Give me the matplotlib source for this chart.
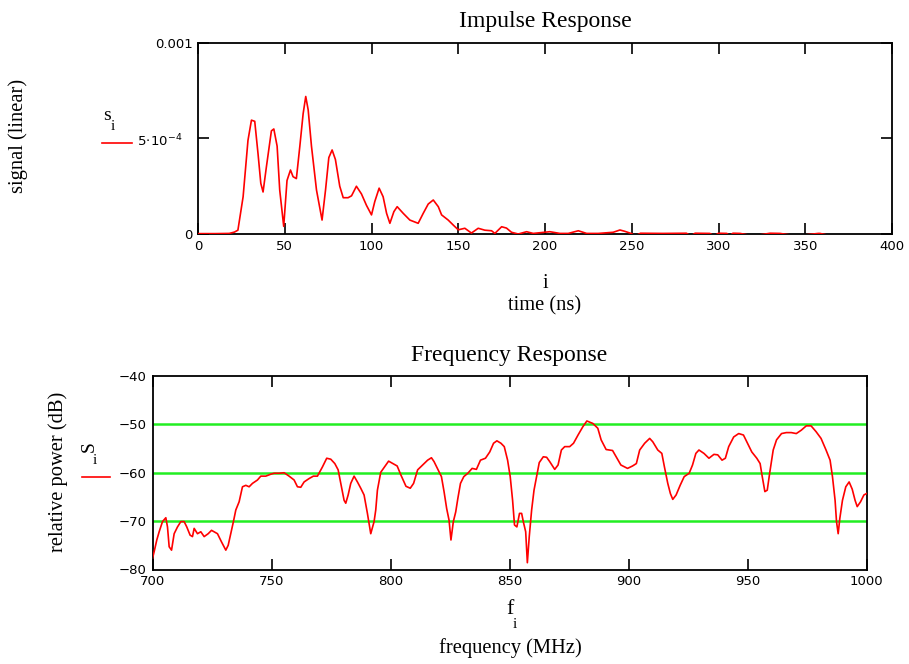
import numpy as np
import matplotlib
matplotlib.use("Agg")
import matplotlib.pyplot as plt

# ---------------- data ----------------
# Impulse response: time (ns) and signal (units of 1e-4)
t_ns = [0, 10, 18, 21, 23, 26, 28.8, 30.8, 32.7, 34.6, 36.2, 37.5, 39.4, 42.3, 43.7, 45.6, 47.1,
        49.4, 51.3, 53.3, 54.8, 56.7, 58.7, 60.6, 62.1, 63.5, 65.4, 68.3, 71.5, 73.5, 75.4,
        77.3, 79.2, 81.7, 83.7, 86.5, 88.5, 91.3, 94.2, 97.1, 100, 101.9, 104.4, 106.7, 108.7,
        110.6, 112.9, 114.8, 118.3, 122.1, 126.9, 129.8, 132.7, 135.6, 138.5, 140.4, 144.2,
        147.1, 150, 153.8, 157.6, 161.5, 165.3, 169.2, 171.1, 175, 177.8, 180.7, 184.6, 189.4,
        193.2, 202.8, 208.6, 213.4, 219.2, 224, 230.7, 239.3, 243.2, 246, 249.9,
        252, 255, 268, 281.5, 284, 286.5, 295, 297.5, 300, 304.8, 306.5, 308.3, 312.5, 320,
        329.7, 335.5, 345, 357.5, 358.5, 365, 400]
s_e4 = [0.02, 0.02, 0.03, 0.1, 0.2, 1.95, 4.9, 5.96, 5.9, 4.2, 2.65, 2.2, 3.5, 5.4, 5.5, 4.6, 2.3,
        0.4, 2.8, 3.35, 3.0, 2.9, 4.6, 6.3, 7.2, 6.5, 4.6, 2.3, 0.73, 2.3, 4.0,
        4.4, 3.9, 2.5, 1.9, 1.9, 2.0, 2.5, 2.1, 1.5, 1.0, 1.7, 2.4, 1.95, 1.08,
        0.56, 1.17, 1.43, 1.08, 0.73, 0.56, 1.08, 1.57, 1.78, 1.43, 1.0, 0.73,
        0.47, 0.22, 0.3, 0.05, 0.3, 0.2, 0.17, 0.03, 0.38, 0.31, 0.09, 0.0, 0.12,
        0.03, 0.12, 0.03, 0.03, 0.17, 0.03, 0.03, 0.09, 0.21, 0.14, 0.02,
        -0.1, 0.04, 0.03, 0.04, -0.1, 0.04, 0.03, -0.1, 0.04, 0.03, -0.1, 0.04, 0.03, -0.1,
        0.04, 0.03, -0.1, 0.03, 0.03, -0.1, -0.1]

# Frequency response: frequency (MHz) and relative power (dB)
f_mhz = [700, 700.7, 701.8, 702.8, 704.2, 705.6, 706.3, 707, 708, 709.1, 710.5, 711.9, 713.3,
         714.4, 715.8, 716.8, 717.5, 718.9, 720.3, 721.7, 723.4, 724.8, 725.9, 727.3, 729,
         730.8, 731.8, 732.9, 734, 735, 736.4, 737.8, 739.2, 740.6, 742, 744.1, 745.5, 747.6,
         749.7, 751.1, 753.2, 755.3, 757.4, 759.5, 760.9, 762.3, 763.7, 765.8, 767.6, 769.3,
         771.4, 773.2, 774.9, 776.6, 778, 779.1, 780.5, 781.2, 782.2, 783.3, 784.7, 786.1,
         787.5, 788.9, 790.3, 791.7, 793.1, 793.8, 794.5, 795.9, 797.5, 799.2, 801, 802.8,
         804.4, 806.5, 808.3, 809.7, 811.4, 813.5, 815.6, 817.2, 818.3, 820, 821.4, 822.5,
         823.6, 824.6, 825.4, 826.4, 827.4, 828.3, 829.4, 830.8, 832.5, 834.3, 836.1, 837.8,
         839.9, 841.7, 843.3, 844.7, 846.4, 847.8, 849.2, 850.3, 851.3, 852.1, 853.1, 854.2,
         855.1, 855.8, 856.8, 857.5, 858.3, 859.3, 860.3, 861.4, 862.5, 864.2, 865.6, 866.9,
         869, 870.4, 871.8, 873.2, 875.3, 876.9, 878.8, 880.8, 882.5, 885, 887.1, 888.5,
         890.6, 893.3, 895.4, 896.8, 899.6, 901.7, 903.3, 904.7, 906.8, 908.9, 910.2, 912.3,
         914, 915.1, 916.5, 917.6, 918.6, 920, 921.7, 923.4, 925.5, 926.9, 928.3, 929.6,
         931.7, 933.8, 935.9, 937.5, 939.3, 940.7, 942.1, 944.2, 946.3, 948.3, 950, 951.8,
         953.9, 955.3, 956.2, 957.3, 958.3, 959.4, 960.8, 962.2, 964.3, 966.3, 968.4, 970.5,
         972.6, 974.7, 976.7, 978.8, 980.9, 983, 984.7, 985.7, 986.8, 987.4, 988.1, 988.8,
         989.9, 991.3, 992.7, 994, 995.2, 996.1, 997.5, 998.9, 1000]
p_db = [-77.7, -76.3, -73.9, -72.2, -70.1, -69.3, -71.2, -75.3, -76, -72.6, -71.2, -70.1, -70.1,
        -71.2, -72.9, -73.2, -71.5, -72.6, -72.2, -73.2, -72.6, -71.9, -72.2, -72.6, -74.3,
        -76, -75, -72.6, -70.1, -67.7, -66, -62.9, -62.6, -62.9, -62.2, -61.5, -60.7, -60.7,
        -60.3, -60.1, -60.1, -60, -60.7, -61.5, -62.9, -63, -61.9, -61.2, -60.7, -60.7,
        -58.8, -57, -57.2, -58.1, -59.4, -62.2, -65.7, -66.3, -64.6, -62.2, -60.7, -61.9,
        -63.2, -64.6, -68.4, -72.6, -70.1, -67.7, -63.6, -59.9, -58.8, -57.6, -58.1, -58.6,
        -60.5, -62.8, -63.2, -62.2, -59.4, -58.4, -57.4, -56.9, -57.7, -59.4, -60.8, -63.9,
        -67.4, -69.8, -73.9, -70.1, -68.1, -65.3, -62.2, -60.8, -60.1, -59.1, -59.3, -57.4,
        -57, -55.7, -53.9, -53.4, -53.9, -54.6, -57.4, -60.8, -65.7, -70.8, -71.2, -68.4,
        -68.4, -70.1, -72.2, -78.6, -73.2, -67.7, -63.6, -60.8, -57.9, -56.7, -56.8, -57.7,
        -59.3, -58.4, -55.3, -54.6, -54.6, -53.9, -52.2, -50.5, -49.3, -49.8, -50.8, -53.2,
        -55.2, -55.4, -57.2, -58.4, -59.1, -58.6, -58.1, -55.3, -53.9, -52.9, -53.6, -55.3,
        -56, -58.8, -62.2, -64.3, -65.5, -64.6, -62.6, -60.8, -60.1, -58.4, -56, -55.3,
        -56, -57, -56.2, -56.3, -57.4, -57, -54.6, -52.6, -51.9, -52.2, -53.9, -55.7,
        -57, -58.1, -60.8, -63.9, -63.6, -59.8, -55.3, -53.2, -51.9, -51.7, -51.7, -51.9,
        -51.2, -50.3, -50.3, -51.5, -52.9, -55.3, -57.4, -60.8, -65.7, -70.1, -72.6, -69.4,
        -65.7, -62.9, -61.9, -63.4, -65.7, -67, -66, -64.6, -64.3]

top_xticks = [0, 50, 100, 150, 200, 250, 300, 350, 400]
top_yticks = [0, 5e-4, 1e-3]
top_yticklabels = ["0", "", "0.001"]
bot_xticks = [700, 750, 800, 850, 900, 950, 1000]
bot_yticks = [-40, -50, -60, -70, -80]
grid_levels = [-50, -60, -70]

# ---------------- figure ----------------
W, H = 909, 664
fig = plt.figure(figsize=(W / 100, H / 100), dpi=100)
fig.patch.set_facecolor("white")

SERIF = "Liberation Serif"
TICKFONT = "DejaVu Sans"
TITLE_FS = 17
LABEL_FS = 14.8
TICK_FS = 9.5

def px(x, y):
    return x / W, 1 - y / H

def style_axes(ax):
    for s in ax.spines.values():
        s.set_linewidth(1.3)
        s.set_color("black")
    ax.tick_params(direction="in", length=8, width=1.2, top=True, right=True,
                   labelsize=TICK_FS, pad=4, colors="black")
    for lab in ax.get_xticklabels() + ax.get_yticklabels():
        lab.set_family(TICKFONT)

def fmt(v):
    return str(v).replace("-", "\u2212")

# ---- top: impulse response ----
ax1 = fig.add_axes([198 / W, 1 - 234 / H, 694 / W, 191 / H])
ax1.plot(t_ns, np.array(s_e4) * 1e-4, color="#ff0000", lw=1.2, zorder=3)
ax1.set_xlim(0, 400)
ax1.set_ylim(0, 0.001)
ax1.set_xticks(top_xticks)
ax1.set_xticklabels([fmt(v) for v in top_xticks])
ax1.set_yticks(top_yticks)
ax1.set_yticklabels(top_yticklabels)
style_axes(ax1)
fig.text(*px(545, 27), "Impulse Response", family=SERIF, fontsize=TITLE_FS,
         ha="center", va="baseline")

fig.text(*px(137, 141), r"$5\!\cdot\!10^{-4}$", fontsize=TICK_FS, family=TICKFONT,
         ha="left", va="center")
fig.text(*px(103, 116), "s", family=SERIF, fontsize=14, ha="left", va="center")
fig.text(*px(111, 127), "i", family=SERIF, fontsize=11, ha="left", va="center")
fig.add_artist(plt.Line2D([102 / W, 132 / W], [1 - 143 / H, 1 - 143 / H], color="#ff0000", lw=1.2))
fig.text(*px(18, 136), "signal (linear)", family=SERIF, fontsize=LABEL_FS, rotation=90,
         ha="center", va="center")
fig.text(*px(545, 283), "i", family=SERIF, fontsize=LABEL_FS, ha="center", va="center")
fig.text(*px(545, 306), "time (ns)", family=SERIF, fontsize=LABEL_FS, ha="center", va="center")

# ---- bottom: frequency response ----
ax2 = fig.add_axes([152.5 / W, 1 - 569.5 / H, 714 / W, 193.5 / H])
for g in grid_levels:
    ax2.axhline(g, color="#22ee22", lw=1.8, zorder=1)
ax2.plot(f_mhz, p_db, color="#ff0000", lw=1.2, zorder=3)
ax2.set_xlim(700, 1000)
ax2.set_ylim(-80, -40)
ax2.set_xticks(bot_xticks)
ax2.set_xticklabels([fmt(v) for v in bot_xticks])
ax2.set_yticks(bot_yticks)
ax2.set_yticklabels([fmt(v) for v in bot_yticks])
style_axes(ax2)
ax2.tick_params(axis="y", length=0)
fig.text(*px(509, 361), "Frequency Response", family=SERIF, fontsize=TITLE_FS,
         ha="center", va="baseline")

fig.text(*px(89, 447), "S", family=SERIF, fontsize=14, rotation=90, ha="center", va="center")
fig.text(*px(95, 461), "i", family=SERIF, fontsize=11, ha="center", va="center")
fig.add_artist(plt.Line2D([82 / W, 110 / W], [1 - 477 / H, 1 - 477 / H], color="#ff0000", lw=1.2))
fig.text(*px(58, 472), "relative power (dB)", family=SERIF, fontsize=LABEL_FS, rotation=90,
         ha="center", va="center")
fig.text(*px(510, 610), "f", family=SERIF, fontsize=LABEL_FS + 1, ha="center", va="center")
fig.text(*px(515, 624), "i", family=SERIF, fontsize=11, ha="center", va="center")
fig.text(*px(510, 648), "frequency (MHz)", family=SERIF, fontsize=LABEL_FS, ha="center", va="center")

fig.savefig("out.png", dpi=100, facecolor="white")
